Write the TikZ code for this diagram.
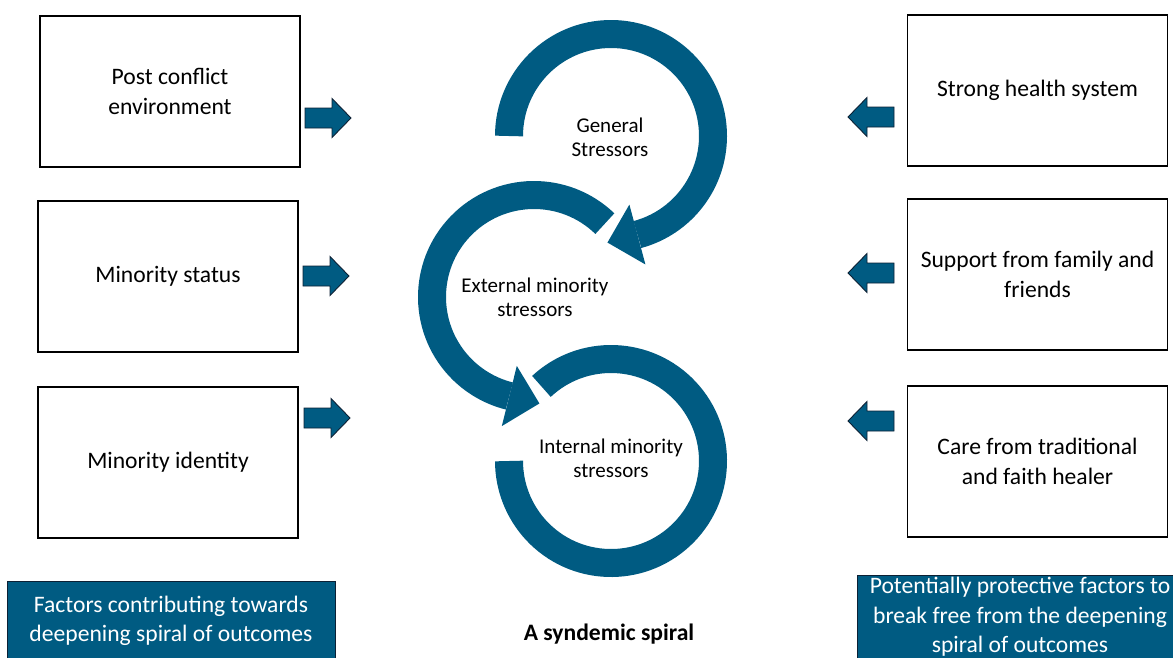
\documentclass[tikz,border=0pt]{standalone}
\usepackage{fontspec}
\setmainfont{Carlito}
\usetikzlibrary{calc}
\definecolor{teal1}{RGB}{0,91,130}
\definecolor{navy1}{RGB}{12,32,52}
\begin{document}
\begin{tikzpicture}[x=1pt,y=1pt,
  box/.style={draw=black, line width=1.2pt, minimum width=260pt, minimum height=151pt, inner sep=0pt, align=center, font=\fontsize{23.6}{30}\selectfont},
  sptext/.style={align=center, font=\fontsize{21}{24}\selectfont},
  band/.style={draw=teal1, line width=28pt},
  head/.style={fill=teal1},
  tag/.style={fill=teal1, draw=navy1, line width=1pt, text=white, align=center, inner sep=0pt, font=\fontsize{23.6}{29.5}\selectfont},
  fatarrow/.style={fill=teal1, draw=navy1, line width=0.9pt, line join=miter},
  rarr/.pic={\path[fatarrow] (-23,-10) -- (4,-10) -- (4,-19.5) -- (23,0) -- (4,19.5) -- (4,10) -- (-23,10) -- cycle;},
  larr/.pic={\path[fatarrow] (23,-10) -- (-4,-10) -- (-4,-19.5) -- (-23,0) -- (-4,19.5) -- (-4,10) -- (23,10) -- cycle;}
]
\clip (0,0) rectangle (1173,-657);
\fill[white] (0,0) rectangle (1173,-657);

% left boxes
\node[box] (L1) at (170,-91.5) {Post conflict\\environment};
\node[box] (L2) at (168,-276.5) {Minority status};
\node[box] (L3) at (168,-462.5) {Minority identity};
% right boxes
\node[box] (R1) at (1037.5,-90.5) {Strong health system};
\node[box] (R2) at (1037.5,-274.5) {Support from family and\\friends};
\node[box] (R3) at (1037.5,-461.5) {Care from traditional\\and faith healer};

% fat arrows
\pic at (328,-118) {rarr};
\pic at (326,-276) {rarr};
\pic at (327,-418) {rarr};
\pic at (871,-117) {larr};
\pic at (871,-273) {larr};
\pic at (871,-421) {larr};

% spiral
\coordinate (C1) at (611,-136);
\coordinate (C2) at (534,-297);
\coordinate (C3) at (611,-461);
\draw[band] ($(C1)+(180:102pt)$) arc[start angle=180,end angle=-75,radius=102pt];
\fill[teal1] ($(C1)+(-75:133pt)$) -- ($(C1)+(-75:71pt)$) -- ($(C1)+(-75:102pt)+(-165:31pt)$) -- cycle;
\draw[band] ($(C2)+(46:102pt)$) arc[start angle=46,end angle=256,radius=102pt];
\fill[teal1] ($(C2)+(256:133pt)$) -- ($(C2)+(256:71pt)$) -- ($(C2)+(256:102pt)+(346:31pt)$) -- cycle;
\draw[band] ($(C3)+(133:102pt)$) arc[start angle=133,end angle=-180,radius=102pt];

\node[sptext] (gs) at (610,-137) {General\\Stressors};
\node[sptext] (ems) at (535,-297) {External minority\\stressors};
\node[sptext] (ims) at (611,-458) {Internal minority\\stressors};

% bottom tags
\node[tag, minimum width=328pt, minimum height=80pt] (tl) at (171,-621) {Factors contributing towards\\deepening spiral of outcomes};
\node[tag, minimum width=326pt, minimum height=84pt] (tr) at (1020,-617) {Potentially protective factors to\\break free from the deepening\\spiral of outcomes};
\node[font=\fontsize{23.6}{30}\selectfont\bfseries] (title) at (609,-634) {A syndemic spiral};
\end{tikzpicture}
\end{document}
